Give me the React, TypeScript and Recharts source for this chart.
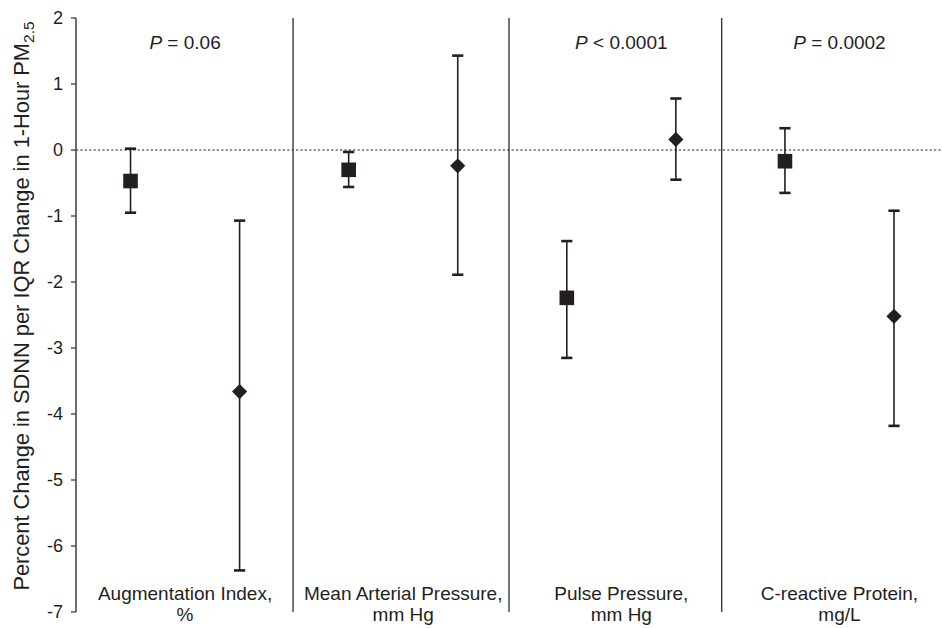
import {
  ComposedChart,
  Scatter,
  ErrorBar,
  XAxis,
  YAxis,
  ReferenceLine,
  ReferenceArea,
} from "recharts";

const CATEGORY_LINE1 = [
  "Augmentation Index,",
  "Mean Arterial Pressure,",
  "Pulse Pressure,",
  "C-reactive Protein,",
];
const CATEGORY_LINE2 = ["%", "mm Hg", "mm Hg", "mg/L"];
const P_VALUES = ["= 0.06", "", "< 0.0001", "= 0.0002"];

// square markers (left of each panel)
const SQUARE_EST = [-0.47, -0.3, -2.24, -0.17];
const SQUARE_LOW = [-0.95, -0.56, -3.15, -0.65];
const SQUARE_HIGH = [0.02, -0.03, -1.38, 0.33];

// diamond markers (right of each panel)
const DIAMOND_EST = [-3.66, -0.24, 0.16, -2.52];
const DIAMOND_LOW = [-6.37, -1.89, -0.45, -4.18];
const DIAMOND_HIGH = [-1.07, 1.43, 0.78, -0.92];

const Y_TICKS = [-7, -6, -5, -4, -3, -2, -1, 0, 1, 2];
const DIVIDERS = [0.995, 1.985, 2.96];

const FONT = "'Liberation Sans', Arial, Helvetica, sans-serif";
const INK = "#231f20";

const buildPoints = (est: number[], low: number[], high: number[], offset: number) =>
  est.map((v, i) => ({ x: i + offset, y: v, err: [v - low[i], high[i] - v] }));

const buildCaps = (low: number[], high: number[], offset: number) =>
  low.flatMap((l, i) => [
    { x: i + offset, y: l },
    { x: i + offset, y: high[i] },
  ]);

const squareData = buildPoints(SQUARE_EST, SQUARE_LOW, SQUARE_HIGH, 0.25);
const diamondData = buildPoints(DIAMOND_EST, DIAMOND_LOW, DIAMOND_HIGH, 0.75);
const capData = [
  ...buildCaps(SQUARE_LOW, SQUARE_HIGH, 0.25),
  ...buildCaps(DIAMOND_LOW, DIAMOND_HIGH, 0.75),
];

const SquareShape = (props: any) => {
  const { cx, cy } = props;
  return <rect x={cx - 7.3} y={cy - 7.3} width={14.6} height={14.6} fill={INK} />;
};

const DiamondShape = (props: any) => {
  const { cx, cy } = props;
  const r = 7.6;
  return (
    <polygon
      points={`${cx},${cy - r} ${cx + r},${cy} ${cx},${cy + r} ${cx - r},${cy}`}
      fill={INK}
    />
  );
};

const CapShape = (props: any) => {
  const { cx, cy } = props;
  return <rect x={cx - 5.6} y={cy - 1.3} width={11.2} height={2.6} fill={INK} />;
};

const CategoryTick = (props: any) => {
  const { x, y, payload } = props;
  const i = Math.floor(payload.value);
  return (
    <g>
      <text x={x} y={y - 12} textAnchor="middle" fontSize={19} fontFamily={FONT} fill={INK}>
        {CATEGORY_LINE1[i]}
      </text>
      <text x={x} y={y + 9} textAnchor="middle" fontSize={19} fontFamily={FONT} fill={INK}>
        {CATEGORY_LINE2[i]}
      </text>
    </g>
  );
};

const YLabel = () => (
  <text
    x={29}
    y={306}
    transform="rotate(-90 29 306)"
    textAnchor="middle"
    fontSize={21.8}
    fontFamily={FONT}
    fill={INK}
  >
    Percent Change in SDNN per IQR Change in 1-Hour PM
    <tspan fontSize={15.5} dy={5}>
      2.5
    </tspan>
  </text>
);

const pLabel = (text: string) => (props: any) => {
  const { viewBox } = props;
  if (!text) return null;
  const [op, ...rest] = text.split(" ");
  return (
    <text
      x={viewBox.x + viewBox.width / 2}
      y={viewBox.y + 31}
      textAnchor="middle"
      fontSize={19}
      fontFamily={FONT}
      fill={INK}
    >
      <tspan fontStyle="italic">P</tspan>
      {` ${op} ${rest.join(" ")}`}
    </text>
  );
};

export default function App() {
  return (
    <div style={{ position: "absolute", left: 0, top: 0 }}>
      <ComposedChart
        width={942}
        height={628}
        margin={{ top: 18, right: 0, left: 0, bottom: 0 }}
      >
        <XAxis
          type="number"
          dataKey="x"
          domain={[0, 3.97]}
          ticks={[0.5, 1.5, 2.5, 3.5]}
          tick={<CategoryTick />}
          axisLine={false}
          tickLine={false}
          tickSize={0}
          tickMargin={0}
          height={16}
          interval={0}
          allowDataOverflow
        />
        <YAxis
          type="number"
          dataKey="y"
          domain={[-7, 2]}
          ticks={Y_TICKS}
          width={76}
          axisLine={{ stroke: "#4a4a4a", strokeWidth: 1.6 }}
          tickLine={{ stroke: "#4a4a4a", strokeWidth: 1.4 }}
          tickSize={5}
          tickMargin={8}
          tick={{ fontSize: 18, fontFamily: FONT, fill: INK }}
          label={<YLabel />}
          allowDataOverflow
        />
        {P_VALUES.map((p, i) => (
          <ReferenceArea
            key={i}
            x1={i}
            x2={i + 1}
            y1={-7}
            y2={2}
            fill="none"
            fillOpacity={0}
            stroke="none"
            ifOverflow="visible"
            label={pLabel(p)}
          />
        ))}
        <ReferenceLine y={0} stroke={INK} strokeWidth={1.2} strokeDasharray="2.2 2.2" />
        {DIVIDERS.map((d) => (
          <ReferenceLine key={d} x={d} stroke="#3a3a3a" strokeWidth={1.4} />
        ))}
        <Scatter data={squareData} shape={<SquareShape />} isAnimationActive={false}>
          <ErrorBar dataKey="err" direction="y" width={0} stroke={INK} strokeWidth={1.6} />
        </Scatter>
        <Scatter data={diamondData} shape={<DiamondShape />} isAnimationActive={false}>
          <ErrorBar dataKey="err" direction="y" width={0} stroke={INK} strokeWidth={1.6} />
        </Scatter>
        <Scatter data={capData} shape={<CapShape />} isAnimationActive={false} />
      </ComposedChart>
    </div>
  );
}
